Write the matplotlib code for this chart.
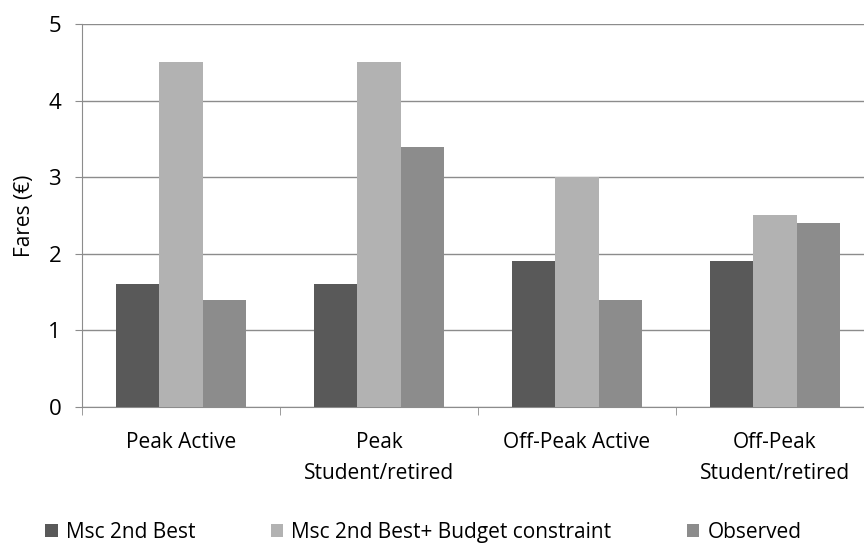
import numpy as np
import matplotlib.pyplot as plt

categories = ["Peak Active", "Peak\nStudent/retired", "Off-Peak Active", "Off-Peak\nStudent/retired"]
series_names = ["Msc 2nd Best", "Msc 2nd Best+ Budget constraint", "Observed"]
msc_2nd_best = [1.6, 1.6, 1.9, 1.9]
msc_budget = [4.5, 4.5, 3.0, 2.5]
observed = [1.4, 3.4, 1.4, 2.4]
colors = ["#595959", "#b2b2b2", "#8c8c8c"]

plt.rcParams['font.family'] = ['Open Sans', 'DejaVu Sans']

fig = plt.figure(figsize=(8.64, 5.45), dpi=100)
ax = fig.add_axes([82/864, (545-407)/545, (874-82)/864, (407-24)/545])

x = np.arange(len(categories))
w = 0.22
for i, (vals, name) in enumerate(zip([msc_2nd_best, msc_budget, observed], series_names)):
    ax.bar(x + (i - 1) * w, vals, w, color=colors[i], label=name, zorder=3)

ax.set_xlim(-0.5, len(categories) - 0.5)
ax.set_ylim(0, 5)
ax.set_yticks(range(0, 6))
ax.yaxis.grid(True, color="#8c8c8c", linewidth=1, zorder=0)
ax.set_ylabel("Fares (€)", fontsize=15, labelpad=10)

ax.set_xticks(x)
ax.set_xticklabels(categories, fontsize=15, linespacing=1.6)
ax.set_xticks(np.arange(-0.5, len(categories)), minor=True)
ax.tick_params(axis='x', which='major', length=0, pad=18)
ax.tick_params(axis='x', which='minor', length=6, color="#8c8c8c")
ax.tick_params(axis='y', labelsize=16, length=5, color="#8c8c8c", pad=10)

for s in ["top", "right"]:
    ax.spines[s].set_visible(False)
for s in ["left", "bottom"]:
    ax.spines[s].set_color("#8c8c8c")

fig.legend(loc="lower center", bbox_to_anchor=(0.49, -0.03), ncol=3, frameon=False,
           fontsize=15, handlelength=0.6, handleheight=0.6, handletextpad=0.4,
           columnspacing=3.6)

fig.savefig("out.png", dpi=100)
